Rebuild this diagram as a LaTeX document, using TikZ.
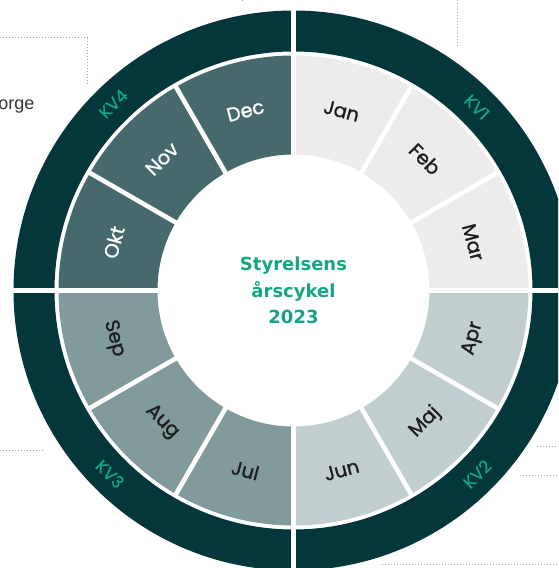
\documentclass[tikz,border=0pt]{standalone}
\usepackage{fontspec}
\setmainfont{Liberation Sans}
\newfontfamily\monthfont[FakeBold=1.2]{Poppins}
\newfontfamily\kvfont[FakeBold=0.4]{Poppins}
\newfontfamily\titlefont{DejaVu Sans}
\definecolor{ringdark}{HTML}{03373B}
\definecolor{qone}{HTML}{ECECEC}
\definecolor{qtwo}{HTML}{C1CECF}
\definecolor{qthree}{HTML}{819A9C}
\definecolor{qfour}{HTML}{45696C}
\definecolor{kvgreen}{HTML}{14A683}
\definecolor{txtdark}{HTML}{1E1E1E}
\definecolor{dotgray}{HTML}{A0A0A0}
\tikzset{
  monthlbl/.style={font=\monthfont\fontsize{19.5}{21}\selectfont, inner sep=0pt},
  kvlbl/.style={font=\kvfont\fontsize{17}{19}\selectfont, text=kvgreen, inner sep=0pt},
  titlelbl/.style={font=\titlefont\bfseries\fontsize{18}{20}\selectfont, text=kvgreen, inner sep=0pt, anchor=base},
  dotline/.style={dotgray, line width=0.9pt, dash pattern=on 0.9pt off 2.1pt},
  sepline/.style={white, line width=4.6pt}
}
\begin{document}
\begin{tikzpicture}[x=1pt,y=1pt]
\useasboundingbox (0,0) rectangle (558,568);
\clip (0,0) rectangle (558,568);
% decorative dotted lines
\draw[dotline] (0,530.3) -- (87,530.3) -- (87,483);
\draw[dotline] (242.7,568) -- (242.7,565.5);
\draw[dotline] (457.3,568) -- (457.3,520.3);
\draw[dotline] (0,118) -- (42.7,118);
\draw[dotline] (536.7,121.3) -- (558,121.3);
\draw[dotline] (520,92.3) -- (558,92.3);
\draw[dotline] (382,3.7) -- (558,3.7);
\node[anchor=base east, inner sep=0pt, text=txtdark!90, font=\fontsize{18}{20}\selectfont] (orge) at (34.5,458.5) {orge};
\begin{scope}[shift={(293.5,277.5)}]
  % outer dark ring
  \fill[ringdark, even odd rule] (0,0) circle (280) (0,0) circle (239);
  % quadrant sectors
  \foreach \a/\col in {0/qone,-90/qtwo,180/qthree,90/qfour}{
    \fill[\col] (\a:235) arc[start angle=\a, end angle=\a+90, radius=235]
      -- ({\a+90}:136) arc[start angle=\a+90, end angle=\a, radius=136] -- cycle;
  }
  % separators
  \foreach \a in {30,60,120,150,210,240,300,330}
    \draw[sepline] (\a:130) -- (\a:238);
  \draw[white, line width=4.6pt] (0,-300) -- (0,300);
  \draw[white, line width=4.4pt] (-300,0) -- (300,0);
  % month labels
  \foreach \nm/\a/\r/\c in {Jan/75/-15/txtdark, Feb/45/-45/txtdark, Mar/15/-75/txtdark,
      Apr/-15/75/txtdark, Maj/-45/45/txtdark, Jun/-75/15/txtdark,
      Jul/-105/-15/txtdark, Aug/-135/-45/txtdark, Sep/-165/-75/txtdark,
      Okt/165/75/white, Nov/135/45/white, Dec/105/15/white}
    \node[monthlbl, text=\c, rotate=\r] (m\nm) at (\a:186) {\nm};
  % KV labels
  \node[kvlbl, rotate=-45] (kv1) at (45:259.5) {KV1};
  \node[kvlbl, rotate=45] (kv2) at (-45:259.5) {KV2};
  \node[kvlbl, rotate=-45] (kv3) at (-135:259.5) {KV3};
  \node[kvlbl, rotate=45] (kv4) at (134:259.5) {KV4};
  % title
  \node[titlelbl] (t1) at (0,19.5) {Styrelsens};
  \node[titlelbl] (t2) at (0,-7) {årscykel};
  \node[titlelbl] (t3) at (0,-33.5) {2023};
\end{scope}
\end{tikzpicture}
\end{document}
